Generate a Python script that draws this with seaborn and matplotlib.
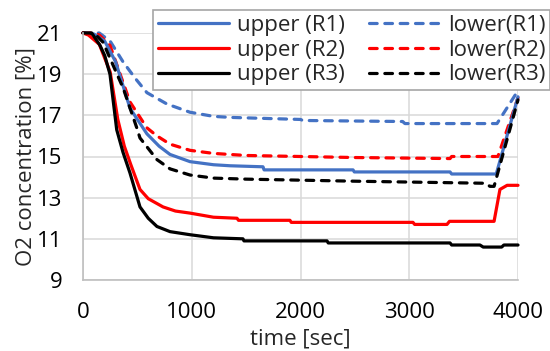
import matplotlib
import matplotlib.pyplot as plt
import seaborn as sns

matplotlib.use("Agg")

# time [sec] / O2 [%]
t_upper_r1 = [0, 100, 200, 300, 432, 500, 588, 700, 800, 984, 1200, 1352, 1655, 1665, 2483, 2495, 3375, 3390, 3800, 4000]
o2_upper_r1 = [21, 20.95, 20.6, 19.6, 17.35, 16.8, 16.1, 15.5, 15.1, 14.75, 14.6, 14.55, 14.5, 14.35, 14.35, 14.25, 14.25, 14.15, 14.15, 17.9]

t_upper_r2 = [0, 50, 150, 250, 320, 380, 440, 524, 600, 736, 850, 984, 1200, 1416, 1430, 1903, 1915, 3034, 3050, 3347, 3370, 3780, 3834, 3900, 4000]
o2_upper_r2 = [21, 20.9, 20.45, 19.1, 16.8, 15.5, 14.6, 13.4, 12.95, 12.55, 12.35, 12.25, 12.05, 12.0, 11.9, 11.9, 11.8, 11.8, 11.7, 11.7, 11.85, 11.85, 13.4, 13.6, 13.6]

t_upper_r3 = [0, 80, 156, 200, 248, 310, 368, 432, 524, 600, 680, 800, 984, 1200, 1471, 1480, 2244, 2255, 3375, 3390, 3650, 3680, 3850, 3870, 4000]
o2_upper_r3 = [21, 21, 20.4, 19.9, 19.0, 16.3, 15.2, 14.2, 12.55, 12.0, 11.6, 11.35, 11.2, 11.05, 11.0, 10.9, 10.9, 10.8, 10.8, 10.7, 10.7, 10.6, 10.6, 10.7, 10.7]

t_lower_r1 = [0, 150, 250, 368, 480, 588, 772, 984, 1200, 1352, 2000, 2020, 2940, 2960, 3807, 4000]
o2_lower_r1 = [21, 21, 20.6, 19.6, 18.8, 18.1, 17.55, 17.15, 16.95, 16.9, 16.8, 16.75, 16.7, 16.6, 16.6, 18.2]

t_lower_r2 = [0, 100, 150, 248, 432, 586, 680, 800, 984, 1200, 1500, 2500, 3375, 3390, 3815, 4000]
o2_lower_r2 = [21, 21, 20.9, 20.4, 17.65, 16.4, 16.0, 15.6, 15.3, 15.15, 15.05, 14.95, 14.9, 15.0, 15.0, 17.85]

t_lower_r3 = [0, 120, 184, 371, 494, 524, 680, 800, 984, 1200, 1500, 2500, 3700, 3742, 3780, 4000]
o2_lower_r3 = [21, 20.9, 20.55, 18.3, 16.4, 15.9, 14.85, 14.4, 14.1, 13.95, 13.9, 13.8, 13.7, 13.55, 13.55, 17.75]

x_ticks = [0, 1000, 2000, 3000, 4000]
y_ticks = [9, 11, 13, 15, 17, 19, 21]

sns.set_style("white")
plt.rcParams["font.family"] = ["Open Sans", "DejaVu Sans"]
fs = 16

fig = plt.figure(figsize=(5.5, 3.51), dpi=100)
ax = fig.add_axes([83 / 550, 1 - 280 / 351, 435 / 550, 247 / 351])

blue, red, black = "#4472C4", "#FF0000", "#000000"
lw = 2.3
dash = (0, (2.4, 2.4))

series = [
    (t_upper_r1, o2_upper_r1, blue, "-", "upper (R1)"),
    (t_upper_r2, o2_upper_r2, red, "-", "upper (R2)"),
    (t_upper_r3, o2_upper_r3, black, "-", "upper (R3)"),
    (t_lower_r1, o2_lower_r1, blue, dash, "lower(R1)"),
    (t_lower_r2, o2_lower_r2, red, dash, "lower(R2)"),
    (t_lower_r3, o2_lower_r3, black, dash, "lower(R3)"),
]
draw_order = [3, 4, 0, 5, 1, 2]
for i in draw_order:
    t, v, c, ls, lab = series[i]
    sns.lineplot(x=t, y=v, ax=ax, color=c, linewidth=lw, linestyle=ls, label=lab,
                 sort=False, clip_on=False)
for line in ax.get_lines():
    line.set_dash_capstyle("round")

ax.set_xlim(0, 4000)
ax.set_ylim(9, 21)
ax.set_xticks(x_ticks)
ax.set_yticks(y_ticks)
ax.grid(True, color="#D9D9D9", linewidth=1.1)
for s in ["top", "right"]:
    ax.spines[s].set_visible(False)
for s in ["left", "bottom"]:
    ax.spines[s].set_color("#BFBFBF")
    ax.spines[s].set_linewidth(1.2)
ax.tick_params(axis="both", length=0, labelsize=fs, colors="#000000")
ax.tick_params(axis="x", pad=16)
ax.tick_params(axis="y", pad=15)

ax.set_xlabel("time [sec]", fontsize=fs)
ax.set_ylabel("O2 concentration [%]", fontsize=fs)
ax.xaxis.set_label_coords(0.5, -0.195)
ax.yaxis.set_label_coords(-0.108, 0.5)

handles, labels = ax.get_legend_handles_labels()
lookup = dict(zip(labels, handles))
order = [s[4] for s in series]
ax.get_legend().remove()
leg = fig.legend([lookup[k] for k in order], order, ncol=2, loc="upper left",
                 bbox_to_anchor=(153 / 550, 1 - 10 / 351), borderaxespad=0,
                 fontsize=fs, frameon=True, fancybox=False, framealpha=1,
                 handlelength=3.2, handletextpad=0.35, columnspacing=1.1,
                 labelspacing=0.17, borderpad=0.22)
leg.get_frame().set_edgecolor("#A6A6A6")
leg.get_frame().set_linewidth(1.2)

fig.savefig("out.png", dpi=100)
